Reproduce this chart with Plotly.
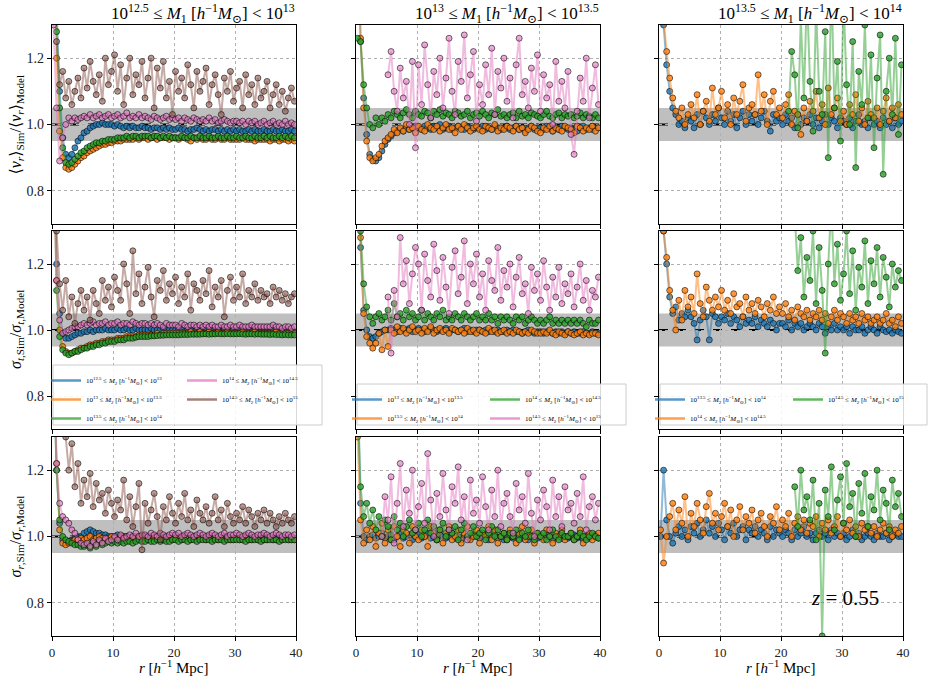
import plotly.graph_objects as go

# ---------------- data ----------------
R = [0.25, 0.75, 1.25, 1.75, 2.25, 2.75, 3.25, 3.75, 4.25, 4.75,
     5.25, 5.75, 6.25, 6.75, 7.25, 7.75, 8.25, 8.75, 9.25, 9.75,
     10.25, 10.75, 11.25, 11.75, 12.25, 12.75, 13.25, 13.75, 14.25, 14.75,
     15.25, 15.75, 16.25, 16.75, 17.25, 17.75, 18.25, 18.75, 19.25, 19.75,
     20.25, 20.75, 21.25, 21.75, 22.25, 22.75, 23.25, 23.75, 24.25, 24.75,
     25.25, 25.75, 26.25, 26.75, 27.25, 27.75, 28.25, 28.75, 29.25, 29.75,
     30.25, 30.75, 31.25, 31.75, 32.25, 32.75, 33.25, 33.75, 34.25, 34.75,
     35.25, 35.75, 36.25, 36.75, 37.25, 37.75, 38.25, 38.75, 39.25, 39.75]

N_ = None

# Row 1: <v_r>_Sim / <v_r>_Model
VR1_B = [1.8, 1.35, 1.1, 0.96, 0.91, 0.9, 0.91, 0.93, 0.95, 0.96,
         0.975, 0.98, 0.99, 0.995, 1.0, 1.0, 1.005, 1.0, 1.0, 1.0,
         0.995, 1.0, 0.995, 0.99, 0.995, 0.99, 0.995, 0.99, 0.99, 0.995,
         0.99, 0.99, 0.985, 0.99, 0.99, 0.985, 0.99, 0.985, 0.99, 0.985,
         0.985, 0.99, 0.985, 0.985, 0.98, 0.985, 0.985, 0.99, 0.985, 0.98,
         0.985, 0.98, 0.985, 0.985, 0.98, 0.985, 0.98, 0.985, 0.98, 0.985,
         0.98, 0.985, 0.98, 0.98, 0.985, 0.98, 0.985, 0.98, 0.98, 0.985,
         0.98, 0.98, 0.985, 0.98, 0.98, 0.985, 0.98, 0.98, 0.985, 0.98]
VR1_O = [1.7, 1.2, 0.98, 0.9, 0.87, 0.865, 0.87, 0.88, 0.89, 0.9,
         0.905, 0.915, 0.92, 0.925, 0.93, 0.935, 0.94, 0.94, 0.945, 0.945,
         0.95, 0.95, 0.95, 0.955, 0.955, 0.955, 0.955, 0.96, 0.955, 0.96,
         0.96, 0.955, 0.96, 0.96, 0.955, 0.96, 0.96, 0.96, 0.955, 0.96,
         0.96, 0.955, 0.96, 0.96, 0.955, 0.95, 0.96, 0.955, 0.96, 0.955,
         0.955, 0.96, 0.955, 0.955, 0.96, 0.955, 0.955, 0.96, 0.955, 0.955,
         0.955, 0.955, 0.96, 0.955, 0.955, 0.955, 0.95, 0.955, 0.955, 0.955,
         0.955, 0.95, 0.955, 0.955, 0.95, 0.955, 0.955, 0.95, 0.955, 0.95]
VR1_G = [1.9, 1.28, 1.05, 0.93, 0.885, 0.88, 0.885, 0.895, 0.905, 0.915,
         0.92, 0.93, 0.935, 0.94, 0.945, 0.945, 0.95, 0.95, 0.955, 0.955,
         0.955, 0.96, 0.96, 0.96, 0.965, 0.96, 0.965, 0.965, 0.96, 0.965,
         0.965, 0.965, 0.96, 0.965, 0.965, 0.96, 0.965, 0.96, 0.965, 0.96,
         0.96, 0.96, 0.965, 0.96, 0.96, 0.965, 0.96, 0.96, 0.965, 0.96,
         0.96, 0.965, 0.96, 0.96, 0.965, 0.96, 0.96, 0.965, 0.96, 0.96,
         0.965, 0.96, 0.96, 0.965, 0.96, 0.96, 0.965, 0.96, 0.96, 0.965,
         0.96, 0.965, 0.96, 0.96, 0.965, 0.96, 0.965, 0.96, 0.965, 0.96]
VR1_P = [1.3, 1.05, 0.89, 0.96, 1.0, 1.02, 1.01, 1.02, 1.015, 1.02,
         1.025, 1.02, 1.03, 1.02, 1.025, 1.03, 1.02, 1.025, 1.03, 1.02,
         1.025, 1.03, 1.02, 1.025, 1.035, 1.02, 1.025, 1.02, 1.03, 1.02,
         1.025, 1.02, 1.015, 1.025, 1.02, 1.015, 1.02, 1.025, 1.015, 1.02,
         1.015, 1.02, 1.01, 1.02, 1.015, 1.01, 1.02, 1.015, 1.01, 1.015,
         1.01, 1.02, 1.01, 1.015, 1.005, 1.01, 1.015, 1.01, 1.005, 1.01,
         1.01, 1.005, 1.01, 1.0, 1.01, 1.005, 1.01, 1.0, 1.005, 1.01,
         1.0, 1.005, 1.01, 1.0, 1.005, 1.0, 1.01, 1.0, 1.005, 1.0]
VR1_N = [N_, 1.25, 1.12, 1.16, 1.08, 1.13, 1.06, 1.1, 1.14, 1.08,
         1.17, 1.11, 1.19, 1.13, 1.09, 1.15, 1.07, 1.2, 1.12, 1.16,
         1.21, 1.1, 1.18, 1.06, 1.14, 1.2, 1.09, 1.15, 1.12, 1.19,
         1.08, 1.14, 1.2, 1.05, 1.17, 1.11, 1.19, 1.08, 1.13, 1.03,
         1.16, 1.1, 1.14, 1.08, 1.18, 1.12, 1.05, 1.16, 1.1, 1.13,
         1.17, 1.06, 1.12, 1.15, 1.09, 1.03, 1.14, 1.1, 1.16, 1.07,
         1.11, 1.13, 1.05, 1.15, 1.09, 1.12, 1.06, 1.14, 1.08, 1.1,
         1.13, 1.05, 1.09, 1.12, 1.06, 1.1, 1.04, 1.08, 1.11, 1.07]

VR2_B = [1.6, 1.25, 1.08, 0.97, 0.91, 0.895, 0.89, 0.9, 0.92, 0.94,
         0.955, 0.965, 0.975, 0.98, 0.985, 0.98, 0.99, 0.985, 0.99, 0.995,
         0.99, 0.985, 0.995, 0.99, 0.985, 0.995, 0.99, 1.0, 0.985, 0.99,
         0.995, 0.985, 0.99, 0.995, 0.99, 0.985, 0.995, 0.99, 0.985, 0.99,
         0.99, 0.995, 0.985, 0.99, 0.985, 0.995, 0.99, 0.985, 0.99, 0.995,
         0.985, 0.99, 0.995, 0.985, 0.99, 0.98, 0.99, 0.995, 0.985, 0.99,
         0.99, 0.985, 0.995, 0.99, 0.98, 0.99, 0.985, 0.995, 0.99, 0.985,
         0.99, 0.985, 0.98, 0.99, 0.995, 0.985, 0.99, 0.985, 0.99, 0.99]
VR2_O = [1.5, 1.26, 1.05, 0.95, 0.9, 0.89, 0.9, 0.91, 0.935, 0.95,
         0.96, 0.97, 0.985, 0.975, 0.99, 0.98, 1.0, 0.985, 0.99, 0.975,
         0.995, 0.985, 0.98, 1.0, 0.99, 0.985, 0.995, 0.98, 0.99, 1.0,
         0.985, 0.99, 0.975, 0.995, 0.985, 1.0, 0.99, 0.98, 0.99, 0.995,
         0.985, 0.98, 0.995, 0.99, 0.985, 1.0, 0.98, 0.99, 0.985, 0.995,
         0.99, 0.98, 0.995, 0.985, 0.99, 0.975, 0.985, 0.995, 0.99, 0.98,
         0.975, 0.99, 0.985, 0.995, 0.98, 0.99, 0.985, 0.98, 0.995, 0.99,
         0.985, 0.975, 0.995, 0.99, 0.98, 0.99, 0.985, 0.995, 0.98, 0.99]
VR2_G = [1.26, 1.25, 1.12, 1.05, 1.0, 0.99, 1.02, 1.0, 1.02, 1.01,
         1.03, 1.02, 1.04, 1.03, 1.02, 1.035, 1.045, 1.03, 1.02, 1.04,
         1.03, 1.025, 1.04, 1.035, 1.02, 1.04, 1.03, 1.045, 1.025, 1.035,
         1.03, 1.02, 1.04, 1.035, 1.025, 1.03, 1.04, 1.02, 1.03, 1.035,
         1.025, 1.04, 1.03, 1.02, 1.035, 1.03, 1.045, 1.025, 1.03, 1.02,
         1.03, 1.035, 1.02, 1.04, 1.025, 1.03, 1.02, 1.035, 1.03, 1.025,
         1.02, 1.03, 1.04, 1.025, 1.02, 1.03, 1.035, 1.02, 1.03, 1.025,
         1.03, 1.02, 1.025, 1.035, 1.02, 1.03, 1.025, 1.02, 1.03, 1.02]
VR2_P = [N_, N_, N_, N_, N_, N_, N_, N_, N_, N_,
         1.15, 1.22, 1.1, 1.04, 1.17, 1.08, 1.13, 1.0, 1.19, 0.93,
         1.18, 1.06, 1.24, 1.12, 1.02, 1.16, 1.09, 1.2, 1.05, 1.14,
         1.26, 1.1, 1.03, 1.19, 1.13, 1.27, 1.08, 1.15, 1.22, 1.01,
         1.12, 1.06, 1.18, 1.09, 1.23, 1.03, 1.16, 1.11, 1.2, 1.07,
         1.14, 1.02, 1.18, 1.26, 1.09, 1.13, 1.05, 1.17, 1.1, 1.21,
         1.04, 1.15, 1.08, 1.12, 1.0, 1.19, 1.07, 1.13, 1.05, 1.16,
         0.97, 0.91, 1.04, 1.14, 1.07, 1.2, 1.02, 1.11, 1.18, 1.06]

VR3_B = [1.6, 1.3, 1.18, 1.1, 1.05, 1.03, 1.0, 1.01, 0.99, 1.02,
         1.01, 0.99, 1.03, 1.0, 1.04, 1.02, 1.0, 1.03, 1.01, 1.05,
         1.02, 1.0, 1.04, 1.01, 1.03, 0.99, 1.02, 1.04, 1.0, 1.03,
         1.01, 1.03, 1.0, 1.02, 1.04, 1.01, 0.98, 1.03, 1.01, 1.02,
         1.0, 1.03, 1.01, 1.02, 0.99, 1.03, 1.0, 1.02, 1.01, 1.03,
         1.0, 1.02, 0.99, 1.01, 1.03, 1.0, 1.02, 1.01, 0.99, 1.02,
         1.01, 1.0, 1.02, 0.99, 1.01, 1.03, 1.0, 1.01, 0.99, 1.02,
         1.0, 1.01, 0.99, 1.02, 1.0, 1.01, 0.99, 1.02, 1.0, 1.01]
VR3_O = [1.5, 1.32, 1.22, 1.14, 1.08, 1.04, 1.02, 1.05, 1.0, 1.03,
         1.06, 1.02, 1.09, 1.0, 1.04, 1.07, 1.01, 1.11, 1.03, 1.05,
         1.1, 1.02, 1.06, 1.0, 1.08, 1.03, 1.07, 1.12, 1.01, 1.05,
         1.06, 1.03, 1.15, 1.04, 1.09, 1.0, 1.07, 1.1, 1.03, 1.05,
         1.02, 1.06, 1.09, 1.0, 1.04, 1.03, 0.97, 1.05, 1.01, 1.07,
         1.04, 1.1, 1.02, 1.06, 1.0, 1.11, 1.03, 1.05, 1.08, 1.01,
         1.04, 1.0, 1.06, 1.03, 1.09, 1.01, 1.05, 1.0, 1.07, 1.03,
         1.02, 1.05, 1.0, 1.04, 1.08, 1.01, 1.05, 1.02, 1.06, 1.03]
VR3_G = [N_, N_, N_, N_, N_, N_, N_, N_, N_, N_,
         N_, N_, N_, N_, N_, N_, N_, N_, N_, N_,
         N_, N_, N_, N_, N_, N_, N_, N_, N_, N_,
         N_, N_, N_, N_, N_, N_, N_, N_, N_, N_,
         N_, N_, 1.04, 1.22, 1.15, 0.99, 1.32, 1.08, 1.4, 1.13,
         0.98, 1.35, 1.1, 1.03, 1.28, 0.9, 1.45, 1.05, 1.19, 0.95,
         1.38, 1.12, 1.0, 1.25, 0.87, 1.16, 1.06, 1.3, 1.02, 1.21,
         0.93, 1.14, 1.27, 0.85, 1.1, 1.2, 1.03, 1.26, 0.97, 1.18]

# Row 2: sigma_t,Sim / sigma_t,Model
ST1_B = [1.7, 1.2, 1.05, 0.99, 0.975, 0.975, 0.98, 0.985, 0.99, 0.99,
         0.995, 0.995, 1.0, 0.995, 1.0, 1.0, 1.0, 1.005, 1.0, 1.0,
         1.0, 1.005, 1.0, 1.0, 1.005, 1.0, 1.0, 1.005, 1.0, 1.0,
         1.0, 1.0, 1.005, 1.0, 1.0, 1.0, 1.005, 1.0, 1.0, 1.0,
         1.0, 1.0, 1.0, 0.995, 1.0, 1.0, 0.995, 1.0, 1.0, 0.995,
         1.0, 0.995, 1.0, 0.995, 1.0, 0.995, 1.0, 0.995, 0.995, 1.0,
         0.995, 1.0, 0.995, 0.995, 1.0, 0.995, 0.995, 1.0, 0.995, 0.995,
         0.995, 0.995, 1.0, 0.995, 0.995, 0.995, 1.0, 0.995, 0.995, 0.995]
ST1_O = [1.65, 1.15, 1.0, 0.95, 0.935, 0.93, 0.93, 0.935, 0.94, 0.945,
         0.945, 0.95, 0.955, 0.955, 0.96, 0.96, 0.965, 0.965, 0.97, 0.97,
         0.97, 0.975, 0.975, 0.975, 0.98, 0.98, 0.98, 0.98, 0.985, 0.985,
         0.985, 0.985, 0.985, 0.985, 0.99, 0.985, 0.99, 0.99, 0.99, 0.99,
         0.99, 0.99, 0.99, 0.99, 0.99, 0.995, 0.99, 0.99, 0.995, 0.99,
         0.99, 0.995, 0.99, 0.99, 0.995, 0.99, 0.99, 0.995, 0.99, 0.99,
         0.99, 0.99, 0.995, 0.99, 0.99, 0.99, 0.995, 0.99, 0.99, 0.99,
         0.99, 0.99, 0.99, 0.995, 0.99, 0.99, 0.99, 0.99, 0.99, 0.99]
ST1_G = [1.6, 1.12, 0.98, 0.94, 0.93, 0.925, 0.93, 0.935, 0.935, 0.94,
         0.945, 0.945, 0.95, 0.95, 0.955, 0.955, 0.96, 0.96, 0.965, 0.965,
         0.965, 0.97, 0.97, 0.97, 0.975, 0.975, 0.975, 0.978, 0.98, 0.98,
         0.98, 0.98, 0.982, 0.982, 0.983, 0.984, 0.984, 0.985, 0.985, 0.985,
         0.985, 0.985, 0.986, 0.986, 0.986, 0.987, 0.987, 0.987, 0.987, 0.988,
         0.988, 0.987, 0.988, 0.988, 0.989, 0.988, 0.988, 0.989, 0.988, 0.988,
         0.988, 0.989, 0.988, 0.987, 0.988, 0.988, 0.987, 0.988, 0.987, 0.987,
         0.987, 0.986, 0.987, 0.986, 0.986, 0.985, 0.986, 0.985, 0.985, 0.985]
ST1_P = [1.5, 1.15, 1.03, 0.99, 0.995, 1.0, 1.005, 1.01, 1.01, 1.015,
         1.02, 1.015, 1.02, 1.025, 1.015, 1.02, 1.02, 1.025, 1.015, 1.02,
         1.02, 1.025, 1.015, 1.02, 1.02, 1.015, 1.025, 1.02, 1.015, 1.02,
         1.02, 1.015, 1.02, 1.015, 1.02, 1.015, 1.01, 1.02, 1.015, 1.015,
         1.015, 1.01, 1.02, 1.015, 1.01, 1.015, 1.015, 1.01, 1.015, 1.01,
         1.015, 1.01, 1.015, 1.01, 1.01, 1.015, 1.01, 1.01, 1.015, 1.01,
         1.01, 1.015, 1.01, 1.01, 1.01, 1.015, 1.01, 1.01, 1.01, 1.01,
         1.01, 1.01, 1.015, 1.01, 1.01, 1.005, 1.01, 1.01, 1.005, 1.01]
ST1_N = [N_, 1.3, 1.14, 1.06, 1.15, 1.04, 1.1, 1.02, 1.08, 1.12,
         1.06, 1.1, 1.03, 1.12, 1.08, 1.05, 1.15, 1.09, 1.13, 1.07,
         1.16, 1.12, 1.09, 1.2, 1.14, 1.05, 1.24, 1.11, 1.17, 1.08,
         1.13, 1.19, 1.1, 1.04, 1.15, 1.12, 1.18, 1.09, 1.14, 1.11,
         1.16, 1.08, 1.13, 1.1, 1.17, 1.06, 1.14, 1.12, 1.09, 1.15,
         1.11, 1.18, 1.07, 1.13, 1.1, 1.15, 1.04, 1.12, 1.16, 1.09,
         1.13, 1.1, 1.17, 1.08, 1.12, 1.1, 1.14, 1.09, 1.12, 1.1,
         1.11, 1.08, 1.13, 1.1, 1.12, 1.09, 1.11, 1.08, 1.1, 1.11]

ST2_B = [1.7, 1.25, 1.06, 1.0, 0.98, 0.975, 0.98, 0.99, 0.995, 1.0,
         1.0, 1.005, 1.0, 0.995, 1.005, 1.0, 1.0, 1.005, 0.995, 1.0,
         1.005, 1.0, 0.995, 1.0, 1.005, 1.0, 0.995, 1.0, 1.0, 1.005,
         0.995, 1.0, 1.0, 0.995, 1.0, 1.005, 0.995, 1.0, 0.995, 1.0,
         1.0, 0.995, 1.0, 0.995, 1.0, 0.995, 1.0, 0.995, 0.995, 1.0,
         0.995, 1.0, 0.995, 0.995, 0.99, 0.995, 1.0, 0.995, 0.99, 0.995,
         0.995, 0.99, 0.995, 0.995, 0.99, 0.995, 0.99, 0.995, 0.99, 0.995,
         0.99, 0.995, 0.99, 0.99, 0.995, 0.99, 0.99, 0.995, 0.99, 0.99]
ST2_O = [1.6, 1.28, 1.05, 0.98, 0.96, 0.945, 0.96, 0.99, 0.94, 1.0,
         0.95, 1.0, 0.99, 1.01, 0.995, 1.005, 0.99, 1.0, 1.01, 0.995,
         1.0, 0.99, 1.005, 0.995, 1.01, 0.99, 1.0, 1.005, 0.995, 1.0,
         0.99, 1.005, 1.0, 0.995, 1.0, 0.99, 1.005, 0.995, 1.0, 0.99,
         1.0, 0.995, 0.99, 1.005, 0.995, 1.0, 0.99, 0.995, 1.0, 0.99,
         0.995, 0.99, 1.0, 0.995, 0.99, 0.995, 0.99, 1.0, 0.995, 0.99,
         0.99, 0.995, 0.99, 1.0, 0.99, 0.985, 0.995, 0.99, 0.985, 0.995,
         0.99, 0.985, 0.99, 0.995, 0.985, 0.99, 0.985, 0.99, 0.99, 0.985]
ST2_G = [1.6, 1.3, 1.14, 1.07, 1.04, 1.02, 1.04, 1.05, 1.03, 1.04,
         1.06, 1.03, 1.08, 1.04, 1.05, 1.03, 1.06, 1.04, 1.05, 1.03,
         1.04, 1.06, 1.03, 1.05, 1.04, 1.03, 1.05, 1.04, 1.06, 1.03,
         1.04, 1.03, 1.05, 1.04, 1.03, 1.05, 1.04, 1.03, 1.04, 1.05,
         1.03, 1.04, 1.03, 1.05, 1.03, 1.04, 1.02, 1.04, 1.03, 1.04,
         1.03, 1.02, 1.04, 1.03, 1.04, 1.02, 1.03, 1.04, 1.03, 1.02,
         1.03, 1.02, 1.03, 1.04, 1.02, 1.03, 1.02, 1.03, 1.02, 1.03,
         1.02, 1.03, 1.02, 1.03, 1.02, 1.01, 1.03, 1.02, 1.02, 1.03]
ST2_P = [N_, N_, N_, N_, N_, N_, N_, N_, N_, N_,
         1.1, 0.93, 1.12, 1.04, 1.28, 1.14, 1.21, 1.08, 1.17, 1.25,
         1.2, 1.06, 1.23, 1.15, 1.1, 1.26, 1.18, 1.09, 1.22, 1.13,
         1.05, 1.19, 1.24, 1.11, 1.16, 1.27, 1.08, 1.2, 1.14, 1.23,
         1.1, 1.17, 1.06, 1.21, 1.15, 1.12, 1.25, 1.09, 1.18, 1.13,
         1.2, 1.07, 1.16, 1.22, 1.11, 1.14, 1.05, 1.19, 1.12, 1.17,
         1.09, 1.21, 1.13, 1.06, 1.16, 1.1, 1.19, 1.08, 1.14, 1.11,
         1.17, 1.07, 1.13, 1.2, 1.09, 1.15, 1.06, 1.12, 1.1, 1.16]

ST3_B = [1.8, 1.3, 1.2, 1.1, 1.05, 1.07, 1.03, 1.05, 1.04, 1.06,
         1.04, 1.02, 0.97, 1.03, 1.06, 1.04, 0.97, 1.05, 1.04, 1.02,
         1.04, 1.03, 1.05, 1.02, 1.04, 1.03, 1.01, 1.04, 1.02, 1.03,
         1.02, 1.04, 1.01, 1.03, 1.02, 1.01, 1.03, 1.02, 1.0, 1.02,
         1.02, 1.01, 1.03, 1.0, 1.02, 1.01, 1.02, 1.0, 1.01, 1.02,
         1.01, 1.0, 1.02, 1.01, 0.99, 1.01, 1.0, 1.02, 1.0, 1.01,
         1.0, 1.01, 0.99, 1.01, 1.0, 1.0, 1.01, 0.99, 1.0, 1.01,
         1.0, 0.99, 1.01, 1.0, 0.995, 1.0, 0.99, 1.0, 0.995, 0.99]
ST3_O = [1.6, 1.3, 1.22, 1.12, 1.06, 1.0, 1.09, 1.03, 1.12, 1.07,
         1.1, 1.05, 1.17, 1.08, 1.04, 1.13, 1.09, 1.06, 1.1, 1.07,
         1.12, 1.06, 1.09, 1.05, 1.11, 1.07, 1.08, 1.04, 1.1, 1.06,
         1.08, 1.05, 1.09, 1.07, 1.04, 1.08, 1.06, 1.1, 1.05, 1.07,
         1.05, 1.08, 1.04, 1.06, 1.03, 1.07, 1.05, 1.04, 1.06, 1.03,
         1.05, 1.04, 1.06, 1.03, 1.05, 1.02, 1.04, 1.06, 1.03, 1.05,
         1.04, 1.02, 1.05, 1.03, 1.04, 1.02, 1.05, 1.03, 1.04, 1.02,
         1.03, 1.04, 1.02, 1.03, 1.05, 1.02, 1.03, 1.01, 1.04, 1.02]
ST3_G = [N_, N_, N_, N_, N_, N_, N_, N_, N_, N_,
         N_, N_, N_, N_, N_, N_, N_, N_, N_, N_,
         N_, N_, N_, N_, N_, N_, N_, N_, N_, N_,
         N_, N_, N_, N_, N_, N_, N_, N_, N_, N_,
         N_, N_, N_, N_, 1.35, 1.18, 1.28, 1.1, 1.22, 1.15,
         1.3, 1.08, 1.25, 1.12, 0.93, 1.2, 1.38, 1.14, 1.26, 1.09,
         1.17, 1.3, 1.11, 1.24, 1.06, 1.19, 1.13, 1.27, 1.08, 1.21,
         1.14, 1.25, 1.1, 1.22, 1.16, 1.07, 1.2, 1.13, 1.18, 1.15]

# Row 3: sigma_r,Sim / sigma_r,Model
SR1_B = [1.6, 1.2, 1.04, 0.99, 0.98, 0.985, 0.99, 0.995, 1.0, 1.0,
         1.01, 1.015, 1.02, 1.015, 1.01, 1.01, 1.005, 1.005, 1.0, 1.0,
         1.0, 1.005, 1.0, 1.0, 1.0, 0.995, 1.0, 1.0, 0.995, 1.0,
         1.0, 0.995, 1.0, 1.0, 0.995, 1.0, 0.995, 1.0, 0.995, 0.995,
         1.0, 0.995, 0.995, 1.0, 0.995, 0.995, 1.0, 0.995, 0.995, 0.995,
         0.995, 1.0, 0.995, 0.995, 0.995, 0.995, 1.0, 0.995, 0.995, 0.995,
         0.995, 0.995, 0.995, 1.0, 0.995, 0.995, 0.995, 0.995, 0.995, 1.0,
         0.995, 0.995, 0.995, 0.995, 0.995, 0.995, 0.995, 0.995, 0.995, 0.995]
SR1_O = [1.55, 1.22, 1.02, 0.98, 0.975, 0.98, 0.985, 0.99, 0.99, 0.995,
         0.99, 0.995, 1.0, 0.99, 0.995, 1.0, 0.995, 0.99, 0.995, 1.0,
         0.995, 0.99, 0.995, 1.0, 0.995, 0.995, 0.99, 0.995, 1.0, 0.995,
         0.995, 0.99, 0.995, 0.995, 1.0, 0.995, 0.99, 0.995, 0.995, 0.99,
         0.995, 0.995, 0.99, 0.995, 0.995, 0.99, 0.995, 0.99, 0.995, 0.995,
         0.99, 0.995, 0.99, 0.995, 0.99, 0.995, 0.99, 0.995, 0.99, 0.99,
         0.995, 0.99, 0.99, 0.995, 0.99, 0.99, 0.995, 0.99, 0.99, 0.99,
         0.99, 0.995, 0.99, 0.99, 0.99, 0.99, 0.995, 0.99, 0.99, 0.99]
SR1_G = [1.5, 1.2, 1.05, 1.0, 0.99, 0.985, 0.98, 0.975, 0.975, 0.97,
         0.97, 0.975, 0.965, 0.98, 0.97, 0.985, 0.975, 0.98, 0.985, 0.98,
         0.985, 0.98, 0.985, 0.98, 0.985, 0.985, 0.98, 0.985, 0.99, 0.985,
         0.985, 0.99, 0.985, 0.985, 0.99, 0.985, 0.99, 0.985, 0.985, 0.99,
         0.99, 0.985, 0.99, 0.99, 0.985, 0.99, 0.99, 0.985, 0.99, 0.99,
         0.99, 0.99, 0.985, 0.99, 0.99, 0.99, 0.985, 0.99, 0.99, 0.99,
         0.99, 0.99, 0.99, 0.985, 0.99, 0.99, 0.99, 0.99, 0.985, 0.99,
         0.99, 0.99, 0.99, 0.99, 0.985, 0.99, 0.99, 0.99, 0.99, 0.99]
SR1_P = [1.6, 1.22, 1.1, 1.06, 1.05, 1.04, 1.02, 1.01, 0.99, 0.98,
         0.975, 0.98, 0.97, 0.985, 0.975, 0.99, 0.98, 0.995, 0.985, 0.99,
         1.0, 0.99, 1.005, 0.995, 1.0, 1.005, 1.0, 1.01, 1.0, 1.005,
         1.005, 1.0, 1.01, 1.005, 1.0, 1.01, 1.005, 1.0, 1.005, 1.01,
         1.005, 1.01, 1.0, 1.005, 1.01, 1.005, 1.0, 1.005, 1.01, 1.005,
         1.0, 1.005, 1.01, 1.005, 1.0, 1.005, 1.01, 1.0, 1.005, 1.005,
         1.01, 1.005, 1.0, 1.005, 1.01, 1.005, 1.0, 1.005, 1.005, 1.01,
         1.005, 1.0, 1.005, 1.01, 1.005, 1.0, 1.005, 1.005, 1.0, 1.005]
SR1_N = [N_, 1.5, 1.38, 1.45, 1.3, 1.2, 1.28, 1.15, 1.22, 1.1,
         1.17, 1.12, 1.19, 1.09, 1.16, 1.11, 1.13, 1.07, 1.14, 1.1,
         1.06, 1.11, 1.08, 1.17, 1.05, 1.12, 1.03, 1.09, 1.16, 0.96,
         1.1, 1.04, 1.08, 1.13, 1.06, 0.99, 1.09, 1.05, 1.12, 1.07,
         1.04, 1.1, 1.06, 1.13, 1.05, 1.08, 1.03, 1.11, 1.07, 1.05,
         1.09, 1.04, 1.07, 1.12, 1.05, 1.08, 1.03, 1.1, 1.06, 1.04,
         1.07, 1.05, 1.09, 1.04, 1.08, 1.06, 1.03, 1.07, 1.05, 1.08,
         1.04, 1.07, 1.05, 1.03, 1.06, 1.04, 1.07, 1.05, 1.04, 1.06]

SR2_B = [1.5, 1.1, 1.0, 0.99, 1.0, 1.005, 0.995, 1.0, 1.01, 0.995,
         1.0, 1.005, 0.99, 1.0, 1.01, 0.995, 1.0, 1.005, 0.99, 1.0,
         1.005, 0.995, 1.0, 1.01, 0.995, 1.0, 0.99, 1.005, 1.0, 0.995,
         1.0, 1.01, 0.995, 1.0, 0.99, 1.005, 1.0, 0.995, 1.005, 1.0,
         0.995, 1.0, 1.005, 0.99, 1.0, 1.005, 0.995, 1.0, 0.99, 1.005,
         1.0, 0.995, 1.0, 1.005, 0.995, 1.0, 0.99, 1.0, 1.005, 0.995,
         1.0, 0.995, 1.005, 1.0, 0.99, 1.0, 1.005, 0.995, 1.0, 0.995,
         1.0, 1.005, 0.995, 1.0, 0.99, 1.0, 0.995, 1.0, 1.005, 0.995]
SR2_O = [1.3, 1.05, 0.98, 1.02, 0.99, 1.03, 0.97, 1.01, 1.04, 0.98,
         1.02, 0.99, 1.03, 1.0, 0.97, 1.02, 1.01, 0.98, 1.03, 1.0,
         0.99, 1.02, 1.0, 0.97, 1.03, 1.01, 0.99, 1.02, 0.98, 1.01,
         1.03, 0.99, 1.0, 1.02, 0.98, 1.01, 1.03, 0.99, 1.0, 1.02,
         0.98, 1.01, 1.0, 1.03, 0.99, 1.02, 0.98, 1.0, 1.01, 0.99,
         1.02, 1.0, 0.98, 1.01, 1.03, 0.99, 1.0, 1.02, 0.98, 1.01,
         1.0, 0.99, 1.02, 1.0, 0.98, 1.01, 1.0, 1.02, 0.99, 1.0,
         1.01, 0.99, 1.0, 1.02, 0.98, 1.0, 1.01, 0.99, 1.0, 1.01]
SR2_G = [1.4, 1.15, 1.06, 1.1, 1.04, 1.08, 1.02, 1.06, 1.0, 1.05,
         1.03, 0.99, 1.06, 1.02, 1.04, 1.0, 1.03, 1.05, 1.01, 1.02,
         1.04, 1.0, 1.02, 1.05, 1.01, 1.03, 0.99, 1.02, 1.04, 1.0,
         1.02, 1.01, 1.03, 0.99, 1.02, 1.04, 1.0, 1.01, 1.03, 1.0,
         1.01, 1.02, 0.99, 1.01, 1.03, 1.0, 1.02, 1.0, 1.01, 0.99,
         1.01, 1.0, 1.02, 0.99, 1.01, 1.0, 1.02, 1.0, 0.99, 1.01,
         1.0, 1.01, 0.99, 1.0, 1.02, 1.0, 0.99, 1.01, 1.0, 1.0,
         1.01, 0.99, 1.0, 1.01, 1.0, 0.99, 1.0, 1.01, 1.0, 0.995]
SR2_P = [N_, N_, N_, N_, N_, N_, N_, N_, 1.0, 1.12,
         1.05, 1.18, 0.98, 1.1, 1.22, 1.03, 1.14, 1.07, 1.2, 1.02,
         1.09, 1.16, 1.04, 1.25, 1.11, 1.0, 1.13, 1.06, 1.19, 1.08,
         1.02, 1.15, 1.1, 1.21, 1.05, 1.12, 0.99, 1.17, 1.07, 1.11,
         1.04, 1.18, 1.09, 1.02, 1.14, 1.06, 1.2, 1.03, 1.1, 1.13,
         1.06, 1.01, 1.16, 1.08, 1.12, 1.04, 1.19, 1.07, 1.0, 1.11,
         1.05, 1.14, 1.09, 1.02, 1.17, 1.06, 1.12, 1.03, 1.15, 1.08,
         1.1, 1.04, 1.13, 1.06, 1.18, 1.02, 1.09, 1.12, 1.05, 1.1]

SR3_B = [1.0, 1.2, 1.05, 1.0, 0.98, 1.01, 1.03, 1.0, 1.02, 0.99,
         1.03, 1.01, 1.04, 1.0, 1.02, 1.05, 1.01, 1.03, 1.0, 1.04,
         1.02, 0.99, 1.03, 1.01, 1.04, 1.0, 1.02, 1.03, 0.99, 1.02,
         1.01, 1.03, 1.0, 1.02, 1.01, 0.99, 1.03, 1.0, 1.02, 1.01,
         1.0, 1.02, 1.01, 0.99, 1.02, 1.0, 1.01, 1.03, 1.0, 1.01,
         0.99, 1.01, 1.02, 1.0, 1.01, 0.99, 1.02, 1.0, 1.01, 1.0,
         1.01, 0.99, 1.0, 1.02, 1.0, 1.01, 0.99, 1.0, 1.01, 1.0,
         0.99, 1.01, 1.0, 1.0, 1.01, 0.99, 1.0, 1.01, 1.0, 1.0]
SR3_O = [1.02, 0.92, 1.0, 1.06, 1.1, 1.02, 1.08, 1.04, 1.12, 1.0,
         1.07, 1.03, 1.1, 1.05, 1.01, 1.09, 1.13, 1.04, 1.07, 1.02,
         1.06, 1.1, 1.03, 1.08, 1.0, 1.05, 1.09, 1.02, 1.06, 1.04,
         1.08, 1.01, 1.05, 1.07, 1.03, 1.0, 1.06, 1.04, 1.09, 1.02,
         1.05, 1.03, 1.07, 1.0, 1.04, 1.06, 1.02, 1.05, 1.01, 1.04,
         1.03, 1.06, 1.0, 1.04, 1.02, 1.05, 1.01, 1.03, 1.06, 1.0,
         1.04, 1.02, 1.05, 1.01, 1.03, 1.0, 1.04, 1.02, 1.03, 1.01,
         1.03, 1.0, 1.02, 1.04, 1.01, 1.03, 1.0, 1.02, 1.01, 1.03]
SR3_G = [N_, N_, N_, N_, N_, N_, N_, N_, N_, N_,
         N_, N_, N_, N_, N_, N_, N_, N_, N_, N_,
         N_, N_, N_, N_, N_, N_, N_, N_, N_, N_,
         N_, N_, N_, N_, N_, N_, N_, N_, N_, N_,
         N_, N_, N_, N_, 1.15, 1.03, 1.2, 1.08, 1.12, 1.05,
         1.17, 0.99, 1.1, 0.7, 1.14, 1.06, 1.21, 1.02, 1.11, 1.18,
         1.04, 1.22, 1.09, 1.13, 1.0, 1.16, 1.07, 1.19, 1.03, 1.12,
         1.08, 1.2, 1.05, 1.14, 1.1, 1.02, 1.17, 1.09, 1.13, 1.06]

COL_TITLES_M1 = [("12.5", "13"), ("13", "13.5"), ("13.5", "14")]
ROW_LABELS = [
    "⟨<i>v</i><sub><i>r</i></sub>⟩<sub>Sim</sub>/⟨<i>v</i><sub><i>r</i></sub>⟩<sub>Model</sub>",
    "<i>σ</i><sub><i>t</i>,Sim</sub>/<i>σ</i><sub><i>t</i>,Model</sub>",
    "<i>σ</i><sub><i>r</i>,Sim</sub>/<i>σ</i><sub><i>r</i>,Model</sub>",
]
Y_TICKS = [0.8, 1.0, 1.2]
Y_TICKTEXT = ["0.8", "1.0", "1.2"]
X_TICKS = [0, 10, 20, 30, 40]
X_TICKTEXT = ["0", "10", "20", "30", "40"]

PANELS = [
    [[("B", VR1_B), ("O", VR1_O), ("G", VR1_G), ("P", VR1_P), ("N", VR1_N)],
     [("B", VR2_B), ("O", VR2_O), ("G", VR2_G), ("P", VR2_P)],
     [("B", VR3_B), ("O", VR3_O), ("G", VR3_G)]],
    [[("B", ST1_B), ("O", ST1_O), ("G", ST1_G), ("P", ST1_P), ("N", ST1_N)],
     [("B", ST2_B), ("O", ST2_O), ("G", ST2_G), ("P", ST2_P)],
     [("B", ST3_B), ("O", ST3_O), ("G", ST3_G)]],
    [[("B", SR1_B), ("O", SR1_O), ("G", SR1_G), ("P", SR1_P), ("N", SR1_N)],
     [("B", SR2_B), ("O", SR2_O), ("G", SR2_G), ("P", SR2_P)],
     [("B", SR3_B), ("O", SR3_O), ("G", SR3_G)]],
]

# legend entries per column: (column A entries, column B entries), each (color key, lo, hi) for M2 bins
LEGENDS = [
    ([("B", "12.5", "13"), ("O", "13", "13.5"), ("G", "13.5", "14")],
     [("P", "14", "14.5"), ("N", "14.5", "15")]),
    ([("B", "13", "13.5"), ("O", "13.5", "14")],
     [("G", "14", "14.5"), ("P", "14.5", "15")]),
    ([("B", "13.5", "14"), ("O", "14", "14.5")],
     [("G", "14.5", "15")]),
]

# ---------------- style ----------------
COLORS = {"B": (31, 119, 180), "O": (255, 127, 14), "G": (44, 160, 44),
          "P": (227, 119, 194), "N": (140, 86, 75)}
W, H = 930, 679
XD = [(52, 296), (356, 600), (659, 903)]   # px
YD = [(25, 224), (231, 429), (437, 636)]   # px from top
FONT = "Liberation Serif, DejaVu Serif, serif"


def px_x(v):
    return v / W


def px_y(v):
    return 1 - v / H


fig = go.Figure()
shapes = []
annotations = []
layout = {}

for i in range(3):
    for j in range(3):
        n = 3 * i + j + 1
        xa = "x" if n == 1 else f"x{n}"
        ya = "y" if n == 1 else f"y{n}"
        for key, vals in PANELS[i][j]:
            r, g, b = COLORS[key]
            ma = 0.8 if key in "BOG" else 0.6
            fig.add_trace(go.Scatter(
                x=R, y=vals, xaxis=xa, yaxis=ya, mode="lines+markers",
                line=dict(color=f"rgba({r},{g},{b},0.5)", width=2),
                marker=dict(size=6, color=f"rgba({r},{g},{b},{ma})",
                            line=dict(color="rgba(0,0,0,0.7)", width=0.8)),
                showlegend=False, hoverinfo="skip", connectgaps=False))
        layout[f"xaxis{n}"] = dict(
            domain=[px_x(XD[j][0]), px_x(XD[j][1])], range=[0, 40], anchor=ya,
            tickvals=X_TICKS, ticktext=X_TICKTEXT, showticklabels=(i == 2),
            ticks="outside", ticklen=4, tickcolor="black", tickwidth=1,
            showline=True, linecolor="black", linewidth=1.2, mirror=True,
            showgrid=True, gridcolor="#b0b0b0", griddash="dot", gridwidth=0.8,
            zeroline=False, tickfont=dict(family=FONT, size=13, color="#222"))
        layout[f"yaxis{n}"] = dict(
            domain=[px_y(YD[i][1]), px_y(YD[i][0])], range=[0.7, 1.3], anchor=xa,
            tickvals=Y_TICKS, ticktext=Y_TICKTEXT, showticklabels=(j == 0),
            ticks="outside", ticklen=4, tickcolor="black", tickwidth=1,
            showline=True, linecolor="black", linewidth=1.2, mirror=True,
            showgrid=True, gridcolor="#b0b0b0", griddash="dot", gridwidth=0.8,
            zeroline=False, tickfont=dict(family=FONT, size=14, color="#222"))
        shapes.append(dict(type="rect", xref=xa, yref=ya, x0=0, x1=40, y0=0.95, y1=1.05,
                           fillcolor="rgba(128,128,128,0.5)", line=dict(width=0), layer="below"))
        shapes.append(dict(type="line", xref=xa, yref=ya, x0=0, x1=40, y0=1.0, y1=1.0,
                           line=dict(color="black", width=2, dash="dash"), layer="below"))

# column titles (right-aligned as in the reference) and x-axis titles
for j, (lo, hi) in enumerate(COL_TITLES_M1):
    annotations.append(dict(
        text=f"10<sup>{lo}</sup> ≤ <i>M</i><sub>1</sub> [<i>h</i><sup>−1</sup><i>M</i><sub>⊙</sub>] &lt; 10<sup>{hi}</sup>",
        x=px_x(XD[j][1] + 1), y=px_y(13), xref="paper", yref="paper",
        xanchor="right", yanchor="middle", showarrow=False,
        font=dict(family=FONT, size=17, color="black")))
    annotations.append(dict(
        text="<i>r</i> [<i>h</i><sup>−1</sup> Mpc]",
        x=px_x((XD[j][0] + XD[j][1]) / 2), y=px_y(667), xref="paper", yref="paper",
        xanchor="center", yanchor="middle", showarrow=False,
        font=dict(family=FONT, size=15, color="black")))

# row labels
for i, lab in enumerate(ROW_LABELS):
    annotations.append(dict(
        text=lab, textangle=-90, x=px_x(16), y=px_y((YD[i][0] + YD[i][1]) / 2),
        xref="paper", yref="paper", xanchor="center", yanchor="middle", showarrow=False,
        font=dict(family=FONT, size=16, color="black")))

annotations.append(dict(
    text="<i>z</i> = 0.55", x=px_x(845), y=px_y(598), xref="paper", yref="paper",
    xanchor="center", yanchor="middle", showarrow=False,
    font=dict(family=FONT, size=21, color="black")))

# legends (one matplotlib legend per column -> two plotly legends + a frame)
LEG_X = [(46, 182), (347, 485), (650, 788)]
LEG_TOP = [366, 385, 385]
BOX_X = [(53, 322), (357, 626), (660, 927)]
leg_idx = 0
for j, (colA, colB) in enumerate(LEGENDS):
    shapes.append(dict(type="rect", xref="paper", yref="paper",
                       x0=px_x(BOX_X[j][0]), x1=px_x(BOX_X[j][1]),
                       y0=px_y(425), y1=px_y(LEG_TOP[j] - 1),
                       fillcolor="rgba(255,255,255,0.85)", line=dict(color="#cccccc", width=1),
                       layer="above"))
    for part, entries in enumerate((colA, colB)):
        leg_idx += 1
        lname = "legend" if leg_idx == 1 else f"legend{leg_idx}"
        for key, lo, hi in entries:
            r, g, b = COLORS[key]
            fig.add_trace(go.Scatter(
                x=[None], y=[None], xaxis="x4", yaxis="y4", mode="lines",
                line=dict(color=f"rgba({r},{g},{b},0.75)", width=2.5),
                name=f"10<sup>{lo}</sup> ≤ <i>M</i><sub>2</sub> [<i>h</i><sup>−1</sup><i>M</i><sub>⊙</sub>] &lt; 10<sup>{hi}</sup>",
                legend=lname, showlegend=True, hoverinfo="skip"))
        layout[lname] = dict(
            x=px_x(LEG_X[j][part]), y=px_y(LEG_TOP[j]), xanchor="left", yanchor="top",
            orientation="v", bgcolor="rgba(0,0,0,0)", borderwidth=0,
            font=dict(family=FONT, size=7, color="black"), tracegroupgap=0, itemwidth=30)

fig.update_layout(
    width=W, height=H, margin=dict(l=0, r=0, t=0, b=0, autoexpand=False),
    paper_bgcolor="white", plot_bgcolor="white",
    shapes=shapes, annotations=annotations, **layout)

fig.write_html("out.html", config={"displayModeBar": False},
               post_script="document.body.style.margin='0';document.body.style.padding='0';"
                           "document.body.style.overflow='hidden';")
